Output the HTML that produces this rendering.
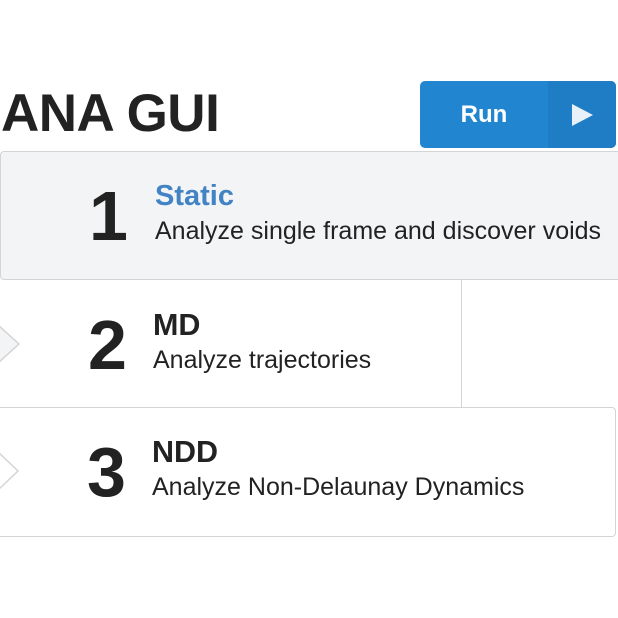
<!DOCTYPE html>
<html><head><meta charset="utf-8"><style>
body{margin:0;width:618px;height:618px;background:#fff;position:relative;overflow:hidden;font-family:"Liberation Sans",sans-serif;color:#222}
.a{position:absolute;white-space:nowrap}
</style></head><body>
<div class="a" style="left:1px;top:83px;font-size:53px;font-weight:bold;letter-spacing:-0.5px;color:#222">ANA GUI</div>
<div class="a" style="left:420px;top:81px;width:196px;height:67px;background:#2185d0;border-radius:5px;overflow:hidden">
  <div class="a" style="left:128px;top:0;width:68px;height:67px;background:#1e7dc4"></div>
  <div class="a" style="left:0;width:128px;top:20px;text-align:center;color:#fff;font-size:24px;font-weight:bold">Run</div>
  <svg class="a" style="left:150px;top:21px" width="26" height="26"><polygon points="2,2 23,13 2,24" fill="#e8f1f9"/></svg>
</div>
<div class="a" style="left:0;top:151px;width:630px;height:127px;background:#f3f4f6;border:1px solid #d4d4d5;border-radius:4px"></div>
<div class="a" style="left:89px;top:176px;font-size:70px;font-weight:bold;color:#222">1</div>
<div class="a" style="left:155px;top:180px;font-size:29px;font-weight:bold;color:#4183c4">Static</div>
<div class="a" style="left:155px;top:217px;font-size:25px;color:#222">Analyze single frame and discover voids</div>
<div class="a" style="left:461px;top:280px;width:1px;height:128px;background:#d4d4d5"></div>
<svg class="a" style="left:0;top:320px" width="24" height="50"><polygon points="-2,5 19,24 -2,43" fill="#f3f4f6" stroke="#d4d4d5" stroke-width="1.5"/></svg>
<div class="a" style="left:88px;top:305px;font-size:70px;font-weight:bold">2</div>
<div class="a" style="left:153px;top:308px;font-size:30.5px;font-weight:bold">MD</div>
<div class="a" style="left:153px;top:346px;font-size:25px">Analyze trajectories</div>
<div class="a" style="left:-10px;top:407px;width:624px;height:128px;background:#fff;border:1px solid #d4d4d5;border-radius:4px"></div>
<svg class="a" style="left:0;top:447px" width="24" height="50"><polygon points="-2,5 18,24 -2,43" fill="#fff" stroke="#d4d4d5" stroke-width="1.5"/></svg>
<div class="a" style="left:87px;top:432px;font-size:70px;font-weight:bold">3</div>
<div class="a" style="left:152px;top:435px;font-size:30.5px;font-weight:bold">NDD</div>
<div class="a" style="left:152px;top:473px;font-size:25px">Analyze Non-Delaunay Dynamics</div>
</body></html>
